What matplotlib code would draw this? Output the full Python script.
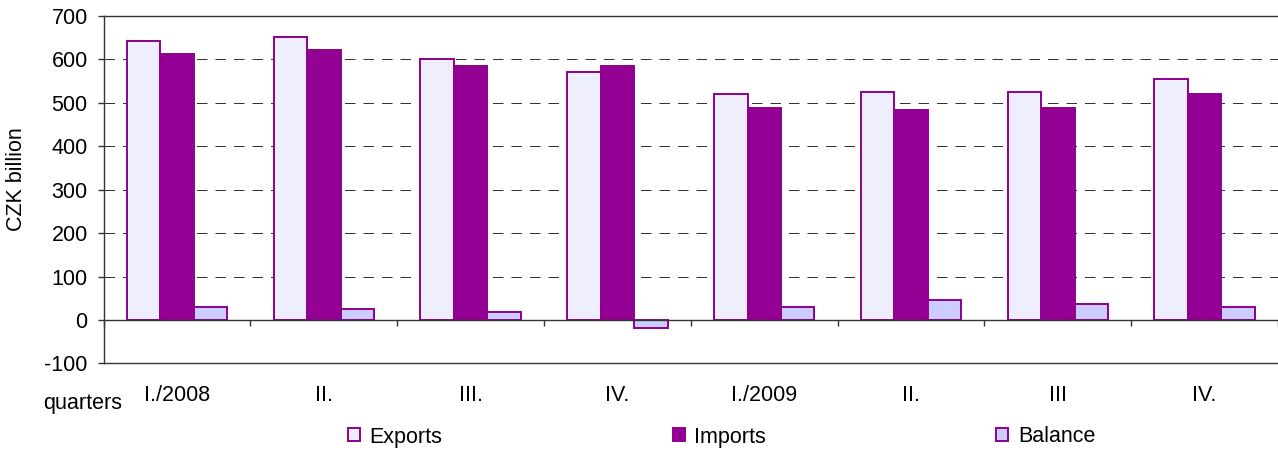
import matplotlib
matplotlib.use("Agg")
import matplotlib.pyplot as plt
import numpy as np
from matplotlib.patches import Patch

categories = ["I./2008", "II.", "III.", "IV.", "I./2009", "II.", "III", "IV."]
exports = [643, 652, 602, 570, 520, 524, 524, 556]
imports = [612, 622, 586, 585, 489, 484, 488, 520]
balance = [31, 25, 18, -19, 31, 45, 36, 31]
series_names = ["Exports", "Imports", "Balance"]
yticks = [-100, 0, 100, 200, 300, 400, 500, 600, 700]

plt.rcParams['font.family'] = ['Liberation Sans', 'DejaVu Sans']
FS = 15.5

edge = '#8E008E'
c_exp = '#EEEEFF'
c_imp = '#930093'
c_bal = '#CCCCFF'

fig = plt.figure(figsize=(12.78, 4.5), dpi=100)
ax = fig.add_axes([103.7/1278, 1-363.4/450, 1-103.7/1278, (363.4-16)/450])

x = np.arange(len(categories))
w = 0.228
lw = 1.4
ax.bar(x - w, exports, w, color=c_exp, edgecolor=edge, linewidth=lw, zorder=3)
ax.bar(x, imports, w, color=c_imp, edgecolor=edge, linewidth=lw, zorder=3)
ax.bar(x + w, balance, w, color=c_bal, edgecolor=edge, linewidth=lw, zorder=3)

ax.set_xlim(-0.5, len(categories) - 0.5)
ax.set_ylim(-100, 700)
ax.set_yticks(yticks)
ax.set_yticklabels([str(v) for v in yticks], fontsize=FS)

# gridlines
for v in yticks:
    if v in (-100, 700):
        ax.axhline(v, color='#333333', lw=1.0, zorder=1, clip_on=False)
    elif v != 0:
        ax.axhline(v, color='#333333', lw=0.72, dashes=(10.5, 8), zorder=1)

for s in ['right', 'top']:
    ax.spines[s].set_visible(False)
ax.spines['left'].set_color('#333333')
ax.spines['left'].set_linewidth(1.0)
ax.spines['bottom'].set_position(('data', 0))
ax.spines['bottom'].set_color('#333333')
ax.spines['bottom'].set_linewidth(1.0)
ax.spines['bottom'].set_zorder(4)

ax.tick_params(axis='y', direction='out', length=4, width=1.0, color='#333333', pad=7.5)
ax.set_xticks(x)
ax.set_xticklabels(categories, fontsize=FS)
ax.tick_params(axis='x', which='major', length=0, pad=47)
ax.set_xticks(np.arange(len(categories) + 1) - 0.5, minor=True)
ax.tick_params(axis='x', which='minor', direction='out', length=4.5, width=1.0, color='#333333')

fig.text(17/1278, 1-179/450, "CZK billion", rotation=90, ha='center', va='center', fontsize=FS)
fig.text(43/1278, 1-404/450, "quarters", ha='left', va='center', fontsize=FS)

handles = [Patch(facecolor=c_exp, edgecolor=edge, linewidth=lw),
           Patch(facecolor=c_imp, edgecolor=edge, linewidth=lw),
           Patch(facecolor=c_bal, edgecolor=edge, linewidth=lw)]
fig.legend(handles, series_names, loc='center left', bbox_to_anchor=(348/1278, 1-437/450),
           ncol=3, frameon=False, fontsize=FS, handlelength=0.55, handleheight=0.55,
           handletextpad=0.45, columnspacing=10.7, borderpad=0, borderaxespad=0)

fig.savefig("out.png", dpi=100)
